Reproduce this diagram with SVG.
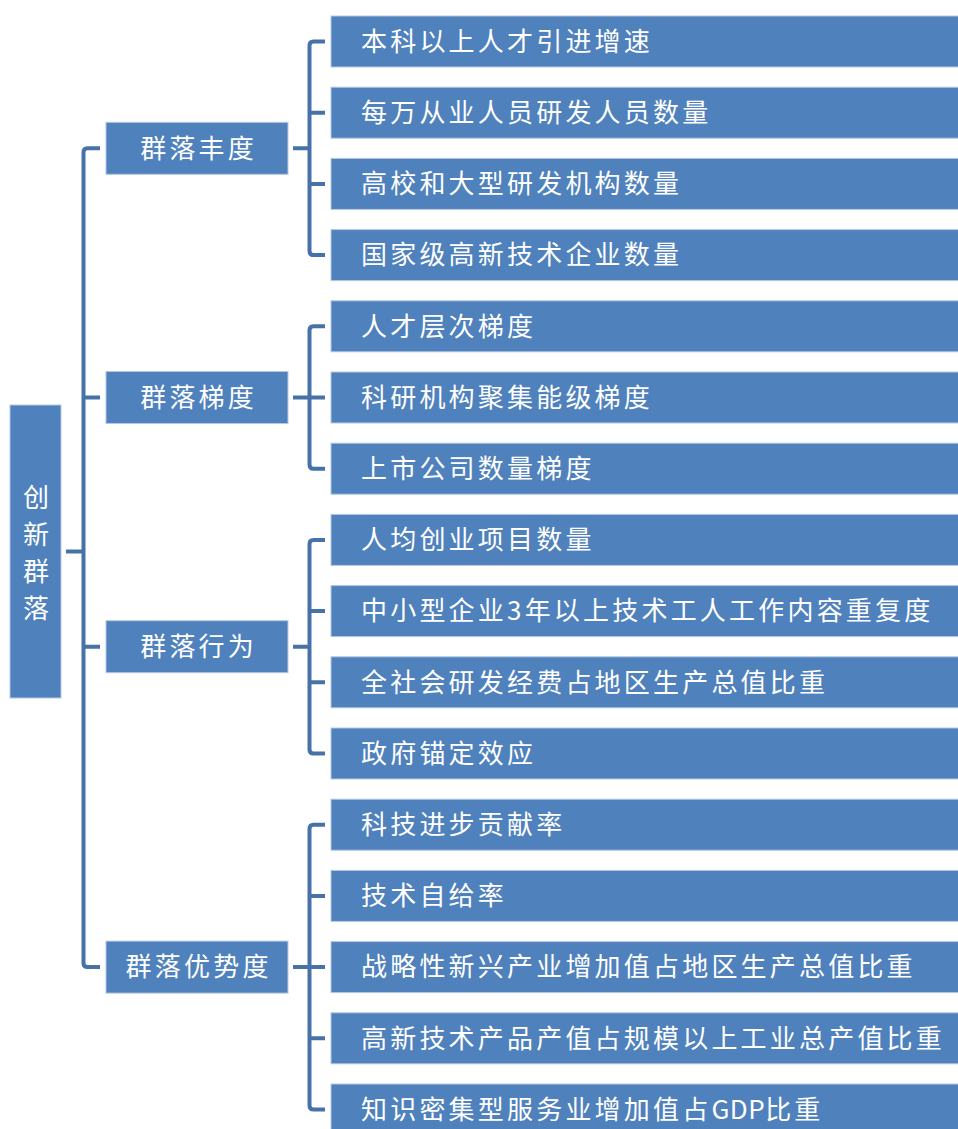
<svg xmlns="http://www.w3.org/2000/svg" width="958" height="1129" viewBox="0 0 958 1129">
<style>
.box{fill:#4F81BD;stroke:#B4C8E3;stroke-width:1}
.t{fill:#FFFFFF;font-family:"Noto Sans CJK SC","Noto Sans",sans-serif;font-size:26px;letter-spacing:3.2px}
.tm{text-anchor:middle}
.lat{letter-spacing:0.5px}
.c{fill:none;stroke:#4672A8;stroke-width:4;stroke-linejoin:round}
</style>
<rect width="958" height="1129" fill="#FFFFFF"/>
<g id="connectors">
<path class="c" d="M66,551.5 H83.5"/>
<path class="c" d="M100,148.3 H87.5 Q83.5,148.3 83.5,152.3 V963.1 Q83.5,967.1 87.5,967.1 H100 M83.5,397.5 H100 M83.5,646.7 H100"/>
<path class="c" d="M293,148.3 H309.5 M325,41.5 H313.5 Q309.5,41.5 309.5,45.5 V251.1 Q309.5,255.1 313.5,255.1 H325 M309.5,112.7 H325 M309.5,183.9 H325"/>
<path class="c" d="M293,397.5 H309.5 M325,326.3 H313.5 Q309.5,326.3 309.5,330.3 V464.7 Q309.5,468.7 313.5,468.7 H325 M309.5,397.5 H325"/>
<path class="c" d="M293,646.7 H309.5 M325,539.9 H313.5 Q309.5,539.9 309.5,543.9 V749.5 Q309.5,753.5 313.5,753.5 H325 M309.5,611.1 H325 M309.5,682.3 H325"/>
<path class="c" d="M293,967.1 H309.5 M325,824.7 H313.5 Q309.5,824.7 309.5,828.7 V1105.5 Q309.5,1109.5 313.5,1109.5 H325 M309.5,895.9 H325 M309.5,967.1 H325 M309.5,1038.3 H325"/>
</g>
<g id="root">
<rect class="box" x="10" y="405" width="51" height="293"/>
<text class="t tm" x="36" y="507" style="letter-spacing:0">创</text>
<text class="t tm" x="36" y="544" style="letter-spacing:0">新</text>
<text class="t tm" x="36" y="581" style="letter-spacing:0">群</text>
<text class="t tm" x="36" y="618" style="letter-spacing:0">落</text>
</g>
<g id="l1-fengdu"><rect class="box" x="106" y="122.3" width="182" height="52"/><text class="t tm" x="198.6" y="157.5">群落丰度</text></g>
<g id="l1-tidu"><rect class="box" x="106" y="371.5" width="182" height="52"/><text class="t tm" x="198.6" y="406.7">群落梯度</text></g>
<g id="l1-xingwei"><rect class="box" x="106" y="620.7" width="182" height="52"/><text class="t tm" x="198.6" y="655.9">群落行为</text></g>
<g id="l1-youshi"><rect class="box" x="106" y="941.1" width="182" height="52"/><text class="t tm" x="198.6" y="976.3">群落优势度</text></g>
<g id="leaf0"><rect class="box" x="331" y="16" width="630" height="51"/><text class="t" x="361" y="50.7">本科以上人才引进增速</text></g>
<g id="leaf1"><rect class="box" x="331" y="87.2" width="630" height="51"/><text class="t" x="361" y="121.9">每万从业人员研发人员数量</text></g>
<g id="leaf2"><rect class="box" x="331" y="158.4" width="630" height="51"/><text class="t" x="361" y="193.1">高校和大型研发机构数量</text></g>
<g id="leaf3"><rect class="box" x="331" y="229.6" width="630" height="51"/><text class="t" x="361" y="264.3">国家级高新技术企业数量</text></g>
<g id="leaf4"><rect class="box" x="331" y="300.8" width="630" height="51"/><text class="t" x="361" y="335.5">人才层次梯度</text></g>
<g id="leaf5"><rect class="box" x="331" y="372" width="630" height="51"/><text class="t" x="361" y="406.7">科研机构聚集能级梯度</text></g>
<g id="leaf6"><rect class="box" x="331" y="443.2" width="630" height="51"/><text class="t" x="361" y="477.9">上市公司数量梯度</text></g>
<g id="leaf7"><rect class="box" x="331" y="514.4" width="630" height="51"/><text class="t" x="361" y="549.1">人均创业项目数量</text></g>
<g id="leaf8"><rect class="box" x="331" y="585.6" width="630" height="51"/><text class="t" x="361" y="620.3">中小型企业3年以上技术工人工作内容重复度</text></g>
<g id="leaf9"><rect class="box" x="331" y="656.8" width="630" height="51"/><text class="t" x="361" y="691.5">全社会研发经费占地区生产总值比重</text></g>
<g id="leaf10"><rect class="box" x="331" y="728" width="630" height="51"/><text class="t" x="361" y="762.7">政府锚定效应</text></g>
<g id="leaf11"><rect class="box" x="331" y="799.2" width="630" height="51"/><text class="t" x="361" y="833.9">科技进步贡献率</text></g>
<g id="leaf12"><rect class="box" x="331" y="870.4" width="630" height="51"/><text class="t" x="361" y="905.1">技术自给率</text></g>
<g id="leaf13"><rect class="box" x="331" y="941.6" width="630" height="51"/><text class="t" x="361" y="976.3">战略性新兴产业增加值占地区生产总值比重</text></g>
<g id="leaf14"><rect class="box" x="331" y="1012.8" width="630" height="51"/><text class="t" x="361" y="1047.5">高新技术产品产值占规模以上工业总产值比重</text></g>
<g id="leaf15"><rect class="box" x="331" y="1084" width="630" height="51"/><text class="t" x="361" y="1118.7">知识密集型服务业增加值占<tspan class="lat">GDP</tspan>比重</text></g>
</svg>
